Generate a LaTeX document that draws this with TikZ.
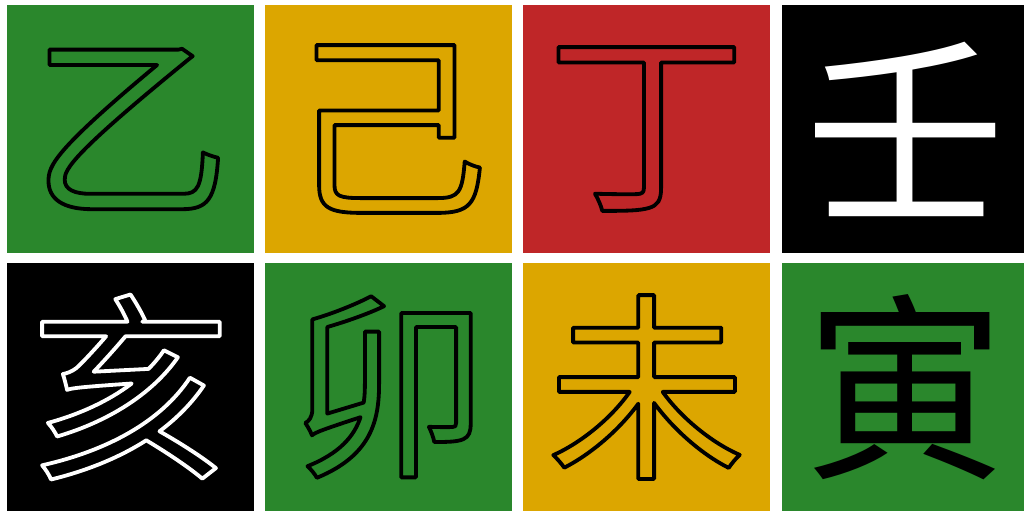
\documentclass[tikz,border=0pt]{standalone}
\usepackage{fontspec}
\newfontfamily\cjk{Noto Sans CJK SC}
\definecolor{tgreen}{HTML}{2A872C}
\definecolor{tyellow}{HTML}{DCA600}
\definecolor{tred}{HTML}{BF2628}
\definecolor{tblack}{HTML}{000000}
\newcommand\outlinetext[1]{\special{pdf:literal direct 1 Tr 3.8 w 1 j}#1\special{pdf:literal direct 0 Tr}}
\tikzset{
  tile/.style={fill=#1, draw=none},
  glyph/.style={font=\cjk\fontsize{200}{200}\selectfont, inner sep=0pt, anchor=center},
}
\begin{document}
\begin{tikzpicture}[x=1pt,y=-1pt]
\useasboundingbox (0,0) rectangle (1024,511);
\fill[white] (0,0) rectangle (1024,511);
% row 1
\path[tile=tgreen]  (7,5) rectangle (254,253);
\path[tile=tyellow] (265,5) rectangle (512,253);
\path[tile=tred]    (523,5) rectangle (770,253);
\path[tile=tblack]  (782,5) rectangle (1029,253);
% row 2
\path[tile=tblack]  (7,263) rectangle (254,511);
\path[tile=tgreen]  (265,263) rectangle (512,511);
\path[tile=tyellow] (523,263) rectangle (770,511);
\path[tile=tgreen]  (782,263) rectangle (1029,511);
% glyphs
\node[glyph, text=black] (c1) at (130.5,129) {\outlinetext{乙}};
\node[glyph, text=black] (c2) at (388.5,129) {\outlinetext{己}};
\node[glyph, text=black] (c3) at (646.5,129) {\outlinetext{丁}};
\node[glyph, text=white] (c4) at (905.5,129) {壬};
\node[glyph, text=white] (c5) at (130.5,387) {\outlinetext{亥}};
\node[glyph, text=black] (c6) at (388.5,387) {\outlinetext{卯}};
\node[glyph, text=black] (c7) at (646.5,387) {\outlinetext{未}};
\node[glyph, text=black] (c8) at (905.5,387) {寅};
\end{tikzpicture}
\end{document}
